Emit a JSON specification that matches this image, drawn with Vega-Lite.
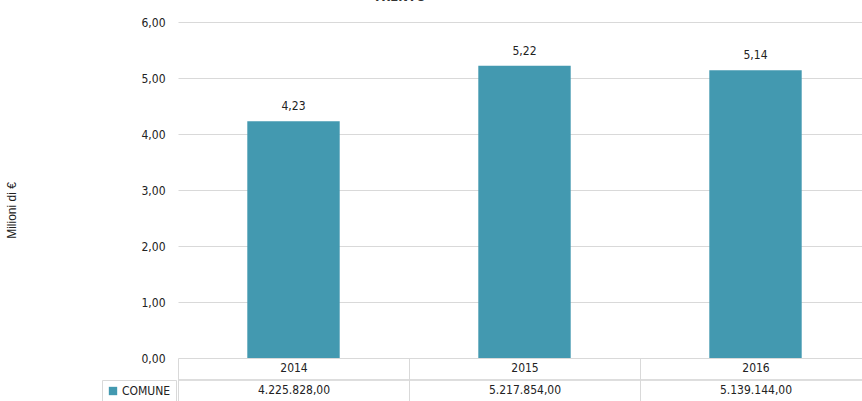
{
  "$schema": "https://vega.github.io/schema/vega-lite/v6.json",
  "autosize": "none",
  "width": 693,
  "height": 336,
  "padding": {"left": 178, "top": 22, "right": 0, "bottom": 43},
  "background": "white",
  "config": {
    "locale": {"number": {"decimal": ",", "thousands": ".", "grouping": [3], "currency": ["", " €"]}},
    "view": {"stroke": null},
    "font": "DejaVu Sans Condensed"
  },
  "title": {
    "text": "TRENTO",
    "anchor": "middle",
    "dx": -125,
    "offset": 12,
    "fontSize": 13,
    "fontWeight": "bold",
    "color": "#333333"
  },
  "data": {
    "values": [
      {"anno": "2014", "euro": 4225828, "serie": "COMUNE"},
      {"anno": "2015", "euro": 5217854, "serie": "COMUNE"},
      {"anno": "2016", "euro": 5139144, "serie": "COMUNE"}
    ]
  },
  "transform": [
    {"calculate": "datum.euro / 1000000", "as": "milioni"},
    {"calculate": "datum.anno + '|' + format(datum.euro, ',.2f')", "as": "colonna"}
  ],
  "encoding": {
    "x": {
      "field": "colonna",
      "type": "nominal",
      "sort": null,
      "scale": {"paddingInner": 0, "paddingOuter": 0},
      "axis": {
        "title": null,
        "labelExpr": "split(datum.label, '|')",
        "labelAngle": 0,
        "labelFontSize": 12,
        "labelColor": "#222222",
        "labelLineHeight": 22,
        "labelBaseline": "top",
        "labelPadding": -40,
        "tickBand": "extent",
        "tickSize": 44,
        "tickColor": "#d9d9d9",
        "domain": false,
        "grid": false
      }
    },
    "y": {
      "field": "milioni",
      "type": "quantitative",
      "scale": {"domain": [0, 6], "nice": false},
      "axis": {
        "title": "Milioni di €",
        "titleFont": "Liberation Sans",
        "titleFontWeight": "normal",
        "titleFontSize": 12,
        "titleColor": "#222222",
        "titleX": -160,
        "titleY": 188,
        "values": [0, 1, 2, 3, 4, 5, 6],
        "format": ".2f",
        "labelFontSize": 12,
        "labelColor": "#222222",
        "labelPadding": 13,
        "ticks": false,
        "domain": false,
        "grid": true,
        "gridColor": "#d9d9d9",
        "gridWidth": 1
      }
    }
  },
  "layer": [
    {
      "mark": {"type": "bar", "width": {"band": 0.4}, "color": "#4399B0"},
      "encoding": {
        "color": {
          "field": "serie",
          "type": "nominal",
          "scale": {"range": ["#4399B0"]},
          "legend": {
            "title": null,
            "orient": "none",
            "legendX": -76,
            "legendY": 358,
            "symbolType": "square",
            "symbolSize": 70,
            "labelFontSize": 12,
            "labelColor": "#222222",
            "labelOffset": 3,
            "strokeColor": "#d9d9d9",
            "padding": 5
          }
        }
      }
    },
    {
      "mark": {"type": "text", "baseline": "bottom", "dy": -8, "fontSize": 12, "color": "#222222"},
      "encoding": {
        "text": {"field": "milioni", "type": "quantitative", "format": ".2f"}
      }
    },
    {
      "mark": {"type": "rule", "color": "#d9d9d9", "strokeWidth": 1},
      "encoding": {"y": {"datum": -0.393}, "x": null}
    }
  ]
}
